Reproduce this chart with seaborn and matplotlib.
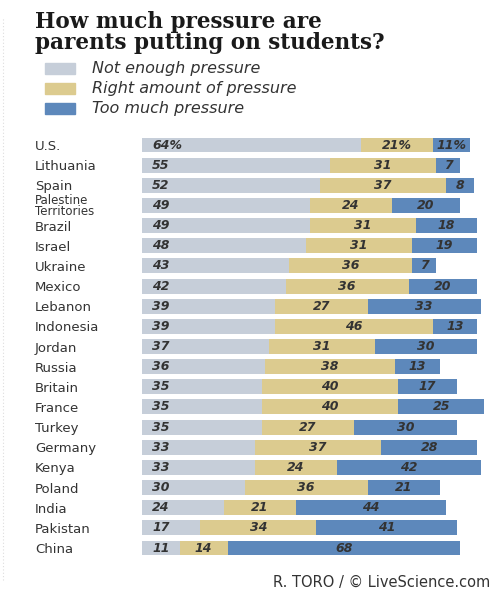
import matplotlib
matplotlib.use("Agg")
import matplotlib.pyplot as plt
import seaborn as sns
import pandas as pd
import numpy as np

countries = ["U.S.", "Lithuania", "Spain", "Palestine\nTerritories", "Brazil", "Israel",
             "Ukraine", "Mexico", "Lebanon", "Indonesia", "Jordan", "Russia", "Britain",
             "France", "Turkey", "Germany", "Kenya", "Poland", "India", "Pakistan", "China"]
not_enough = [64, 55, 52, 49, 49, 48, 43, 42, 39, 39, 37, 36, 35, 35, 35, 33, 33, 30, 24, 17, 11]
right_amount = [21, 31, 37, 24, 31, 31, 36, 36, 27, 46, 31, 38, 40, 40, 27, 37, 24, 36, 21, 34, 14]
too_much = [11, 7, 8, 20, 18, 19, 7, 20, 33, 13, 30, 13, 17, 25, 30, 28, 42, 21, 44, 41, 68]
legend_labels = ["Not enough pressure", "Right amount of pressure", "Too much pressure"]
title = "How much pressure are\nparents putting on students?"
credit = "R. TORO / \u00a9 LiveScience.com"

c_grey = "#c6ced9"
c_tan = "#dccb8f"
c_blue = "#5d88bb"

df = pd.DataFrame({"country": countries, "a": not_enough, "b": right_amount, "c": too_much})
df["ab"] = df["a"] + df["b"]
df["abc"] = df["ab"] + df["c"]

sns.set_theme(style="white")
W, H = 492, 592
fig = plt.figure(figsize=(W / 100, H / 100), dpi=100)

row = 20.15
top_px = 145 - row / 2
ax_h = 21 * row
ax = fig.add_axes([142 / W, 1 - (top_px + ax_h) / H, 342 / W, ax_h / H])

bw = 0.74
sns.barplot(data=df, x="abc", y="country", orient="h", color=c_blue, width=bw, ax=ax,
            saturation=1, edgecolor="none")
sns.barplot(data=df, x="ab", y="country", orient="h", color=c_tan, width=bw, ax=ax,
            saturation=1, edgecolor="none")
sns.barplot(data=df, x="a", y="country", orient="h", color=c_grey, width=bw, ax=ax,
            saturation=1, edgecolor="none")

ax.set_xlim(0, 100)
ax.set_ylim(20.5, -0.5)
for s in ax.spines.values():
    s.set_visible(False)
ax.set_xticks([])
ax.set_xlabel("")
ax.set_ylabel("")
ax.tick_params(axis="y", length=0, pad=77)
ax.set_yticks(range(len(countries)))
ax.set_yticklabels(countries, ha="left", fontsize=9.5, color="#333333")
for lab in ax.get_yticklabels():
    if "\n" in lab.get_text():
        lab.set_fontsize(8.5)
        lab.set_linespacing(0.85)

vfont = dict(fontsize=9, fontweight="bold", fontstyle="italic", color="#333333", va="center")
for i, (a, b, c) in enumerate(zip(not_enough, right_amount, too_much)):
    suf = "%" if i == 0 else ""
    ax.text(3, i, f"{a}{suf}", ha="left", **vfont)
    ax.text(a + b / 2, i, f"{b}{suf}", ha="center", **vfont)
    ax.text(a + b + c / 2, i, f"{c}{suf}", ha="center", **vfont)

fig.text(35 / W, 1 - 11 / H, title, ha="left", va="top", fontsize=15.5, fontweight="bold",
         family="DejaVu Serif", color="#1a1a1a", linespacing=0.95)

for k, (lab, col) in enumerate(zip(legend_labels, [c_grey, c_tan, c_blue])):
    yc = 68 + k * 20
    fig.patches.append(plt.Rectangle((45 / W, 1 - (yc + 5.5) / H), 30 / W, 11 / H,
                                     transform=fig.transFigure, color=col))
    fig.text(92 / W, 1 - yc / H, lab, ha="left", va="center", fontsize=11.5,
             fontstyle="italic", color="#333333")

fig.text(490 / W, 1 - 582 / H, credit, ha="right", va="center", fontsize=10.5,
         color="#333333")

fig.add_artist(plt.Line2D([3 / W, 3 / W], [0.02, 0.97], transform=fig.transFigure,
                          color="#dddddd", lw=0.8, ls=(0, (1, 2))))

fig.savefig("out.png", dpi=100, facecolor="white")
